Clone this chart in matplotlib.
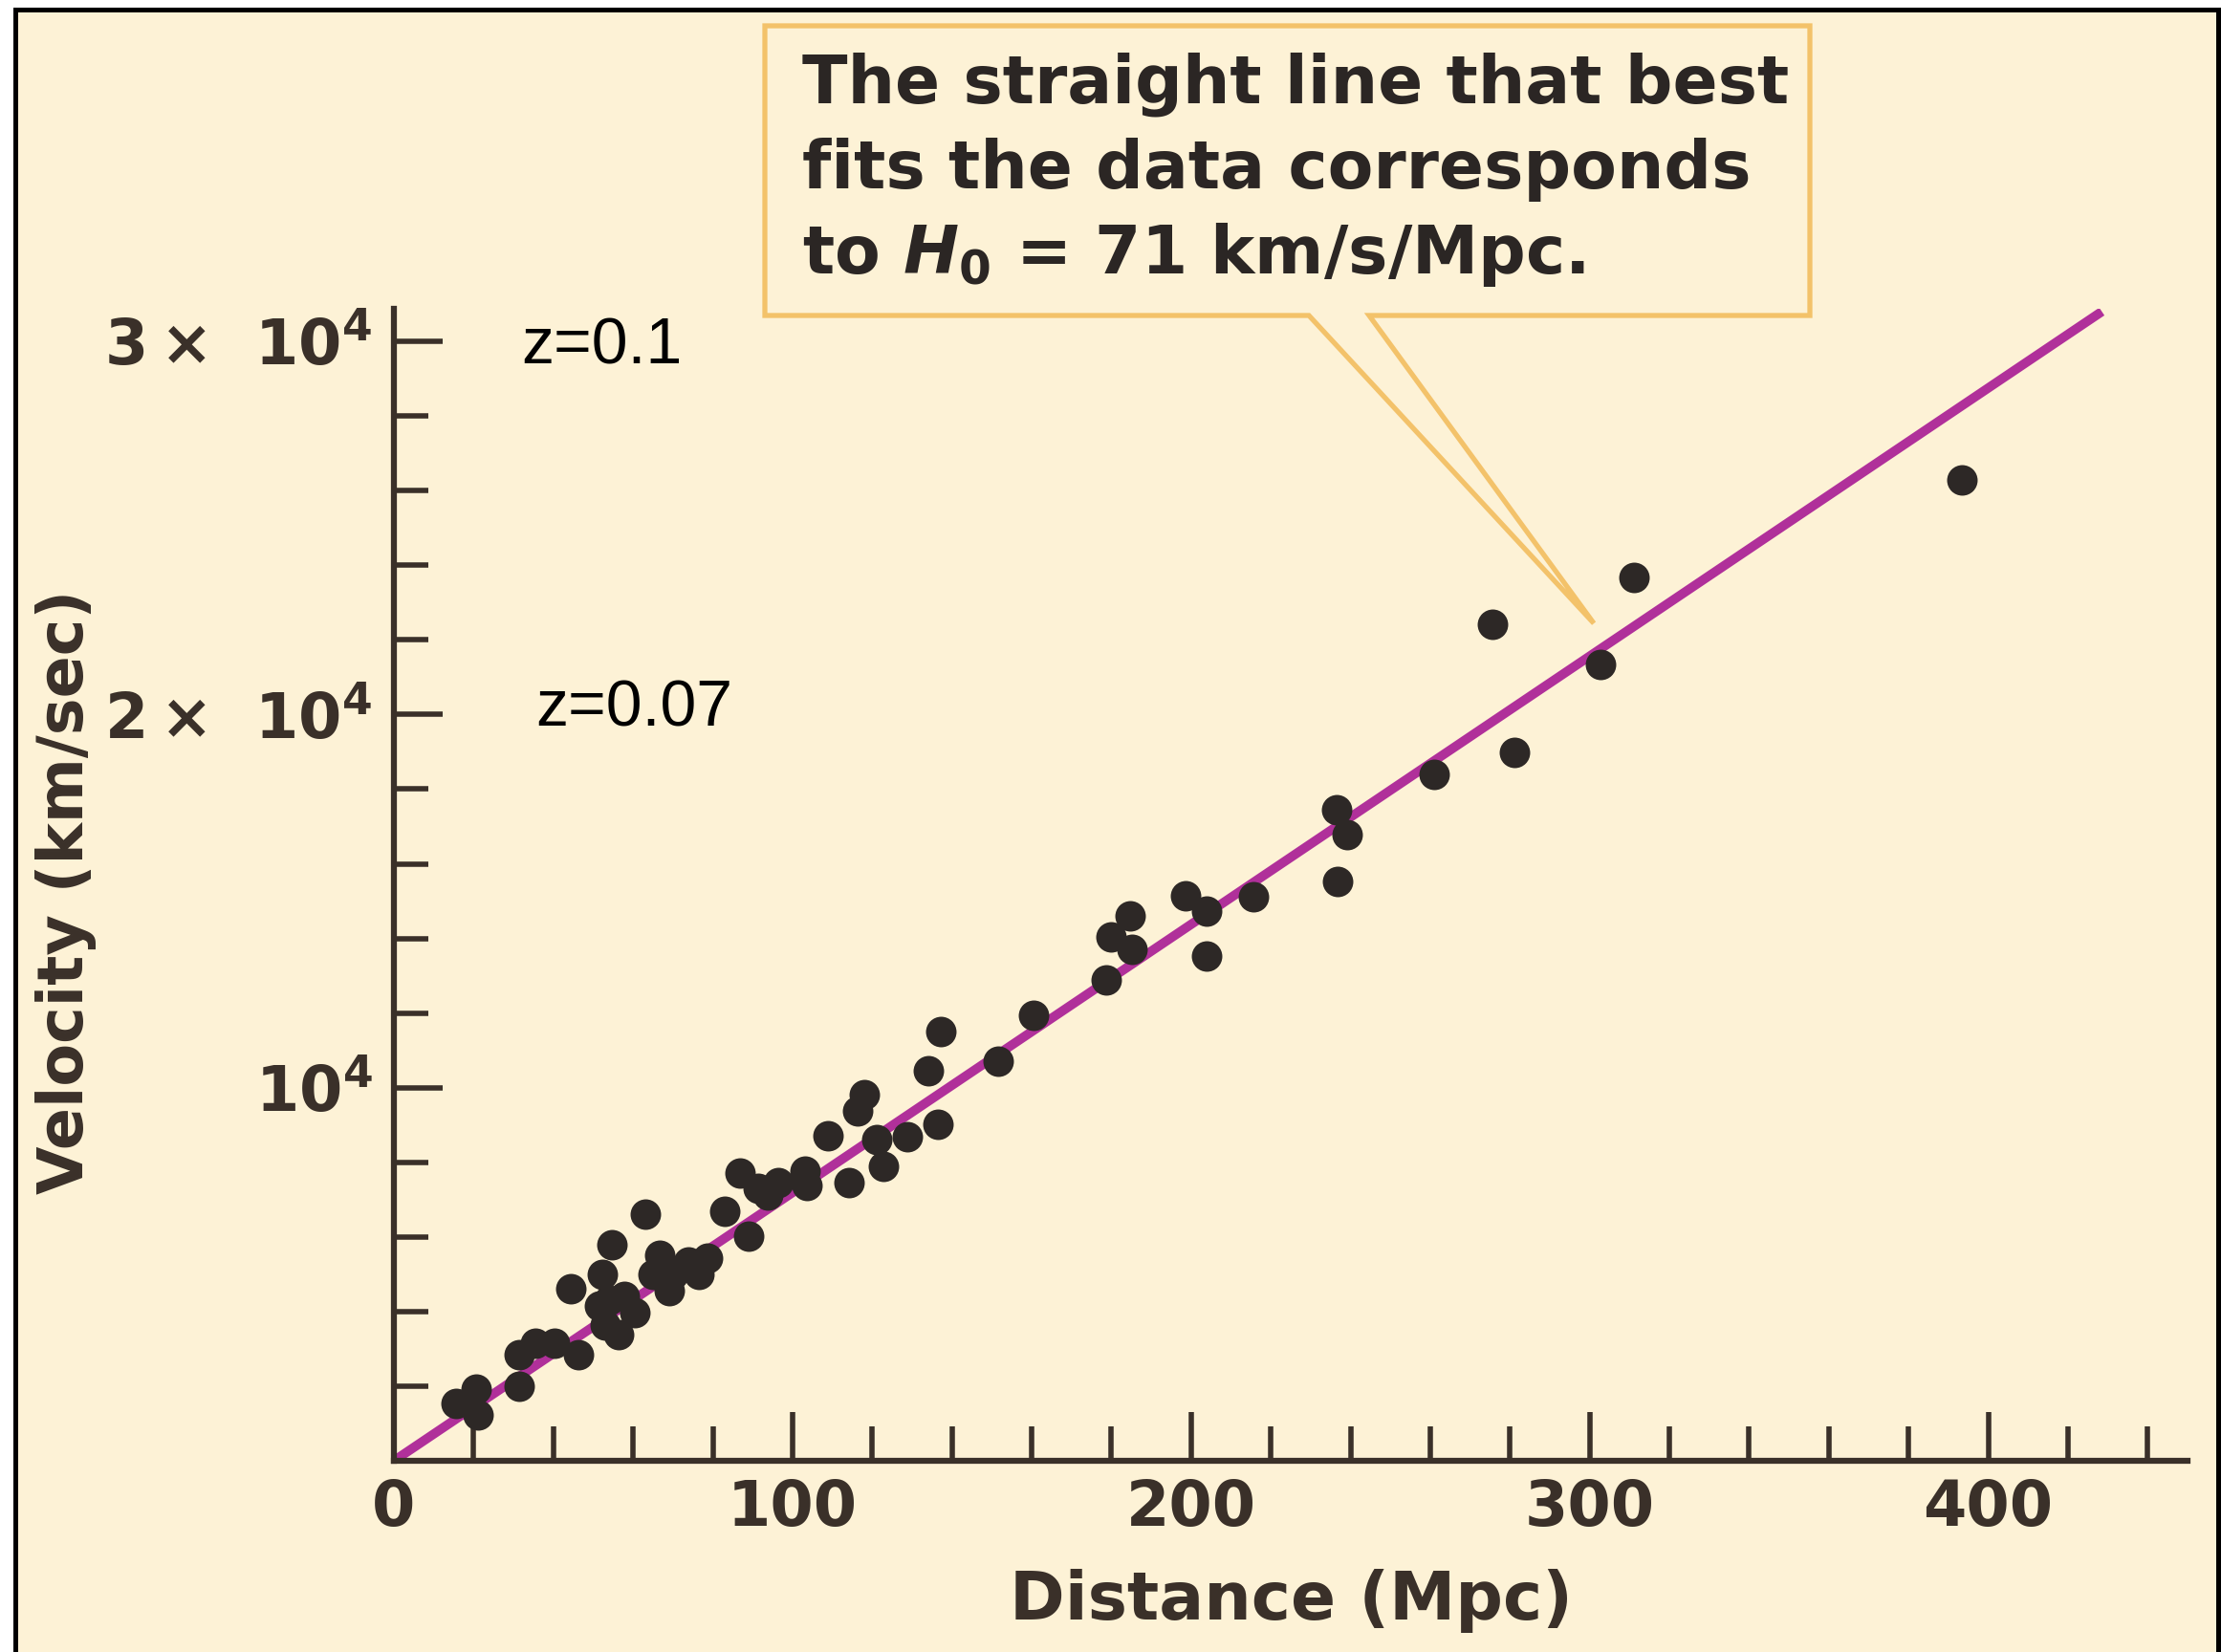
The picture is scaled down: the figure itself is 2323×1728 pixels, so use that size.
import matplotlib.pyplot as plt
import matplotlib.patches as mpatches
from matplotlib.ticker import FixedLocator, MultipleLocator
import numpy as np

plt.rcParams['mathtext.fontset'] = 'custom'
plt.rcParams['mathtext.rm'] = 'DejaVu Sans:bold'
plt.rcParams['mathtext.it'] = 'DejaVu Sans:italic:bold'
plt.rcParams['mathtext.bf'] = 'DejaVu Sans:bold'

# galaxies: distance (Mpc), recession velocity (km/s)
distance = np.array([
    393.3, 311.0, 275.6, 302.7, 281.2, 261.1, 236.4, 239.2, 236.8, 215.6,
    198.6, 203.8, 184.8, 180.0, 185.2, 204.0, 178.8, 160.4, 151.6, 137.3,
    134.0, 118.0, 116.4, 109.0, 121.2, 128.8, 136.6, 122.8, 114.1, 103.2,
    103.6, 96.4, 93.9, 86.8, 91.5, 83.1, 89.1,
    63.1, 54.7, 66.7, 52.3, 44.3, 70.0, 69.1, 73.9, 78.7, 76.4,
    65.1, 51.5, 53.1, 56.4, 60.4, 57.9, 53.9, 46.3, 40.3, 35.5,
    31.5, 31.5, 21.1, 20.7, 15.5])
velocity = np.array([
    26300, 23670, 22410, 21340, 18990, 18400, 17460, 16770, 15530, 15110,
    15130, 14720, 14600, 14040, 13700, 13530, 12890, 11950, 10710, 11500,
    10450, 9810, 9390, 8700, 8620, 8680, 9030, 7890, 7450, 7760,
    7380, 7460, 7120, 7720, 7290, 6700, 6010,
    6610, 5800, 5500, 4990, 4600, 4990, 4560, 5330, 5420, 4990,
    4990, 4140, 3630, 3370, 3970, 4400, 4310, 2850, 3150, 3150,
    2850, 2000, 1230, 1910, 1530])

# best-fit line end points (H0 = 71 km/s/Mpc)
fit_distance = [0, 428.5]
fit_velocity = [0, 30800]

x_major = [0, 100, 200, 300, 400]
x_labels = ['0', '100', '200', '300', '400']
y_major = [10000, 20000, 30000]
y_labels = [r'$10^4$', r'$2\times\;\,10^4$', r'$3\times\;\,10^4$']

z_labels = ['z=0.1', 'z=0.07']
z_x = [32, 35.5]
z_v = [29390, 19680]

callout = ['The straight line that best',
           'fits the data corresponds',
           r'to $H_0$ = 71 km/s/Mpc.']

W, H = 2323, 1728
bg = '#fdf2d6'
ink = '#3a3029'

fig = plt.figure(figsize=(W / 100, H / 100), dpi=100, facecolor='white')

# cream panel with black frame
frame = mpatches.Rectangle((15.5 / W, -0.02), (2320 - 15.5) / W, 1.02 - 10.5 / H,
                           transform=fig.transFigure, facecolor=bg,
                           edgecolor='black', lw=3.6, zorder=-1)
fig.patches.append(frame)

ax = fig.add_axes([412 / W, 1 - 1528 / H, (2288 - 412) / W, (1528 - 323) / H])
ax.patch.set_alpha(0)
ax.set_xlim(0, 450)
ax.set_ylim(0, 30874)

for s in ['top', 'right']:
    ax.spines[s].set_visible(False)
for s in ['left', 'bottom']:
    ax.spines[s].set_linewidth(4.5)
    ax.spines[s].set_color(ink)

ax.xaxis.set_major_locator(FixedLocator(x_major))
ax.set_xticklabels(x_labels, fontweight='bold')
ax.xaxis.set_minor_locator(MultipleLocator(20))
ax.yaxis.set_major_locator(FixedLocator(y_major))
ax.set_yticklabels(y_labels)
ax.yaxis.set_minor_locator(MultipleLocator(2000))

ax.tick_params(which='major', direction='in', length=37, width=4, color=ink,
               labelsize=47, labelcolor=ink)
ax.tick_params(axis='x', which='major', pad=13)
ax.tick_params(axis='y', which='major', pad=16)
ax.tick_params(which='minor', direction='in', length=26, width=4, color=ink)

ax.plot(fit_distance, fit_velocity, color='#b0309a', lw=7, solid_capstyle='butt', zorder=2)
ax.plot(distance, velocity, 'o', ms=23, color='#2d2826', mew=0, zorder=3)

ax.set_xlabel('Distance (Mpc)', fontsize=50, fontweight='bold', color=ink)
ax.xaxis.set_label_coords(0.5, -0.094)
ax.set_ylabel('Velocity (km/sec)', fontsize=47, fontweight='bold', color=ink)
ax.yaxis.set_label_coords(-0.166, 0.494)

for lab, xx, vv in zip(z_labels, z_x, z_v):
    ax.text(xx, vv, lab, fontsize=49, family='Liberation Sans', color='black',
            ha='left', va='baseline')

# callout box with pointer
pts = [(800, 27), (1893, 27), (1893, 330), (1432, 330), (1667, 652),
       (1369, 330), (800, 330)]
poly = mpatches.Polygon([(px / W, 1 - py / H) for px, py in pts],
                        closed=True, transform=fig.transFigure, facecolor=bg,
                        edgecolor='#f3c26a', lw=3.8, joinstyle='miter', zorder=1)
fig.patches.append(poly)

for line, base in zip(callout, [107, 197, 286]):
    fig.text(839 / W, 1 - base / H, line, fontsize=50, fontweight='bold',
             color='#2b2624', ha='left', va='baseline', zorder=2)

fig.savefig('out.png', dpi=100, facecolor=fig.get_facecolor())
